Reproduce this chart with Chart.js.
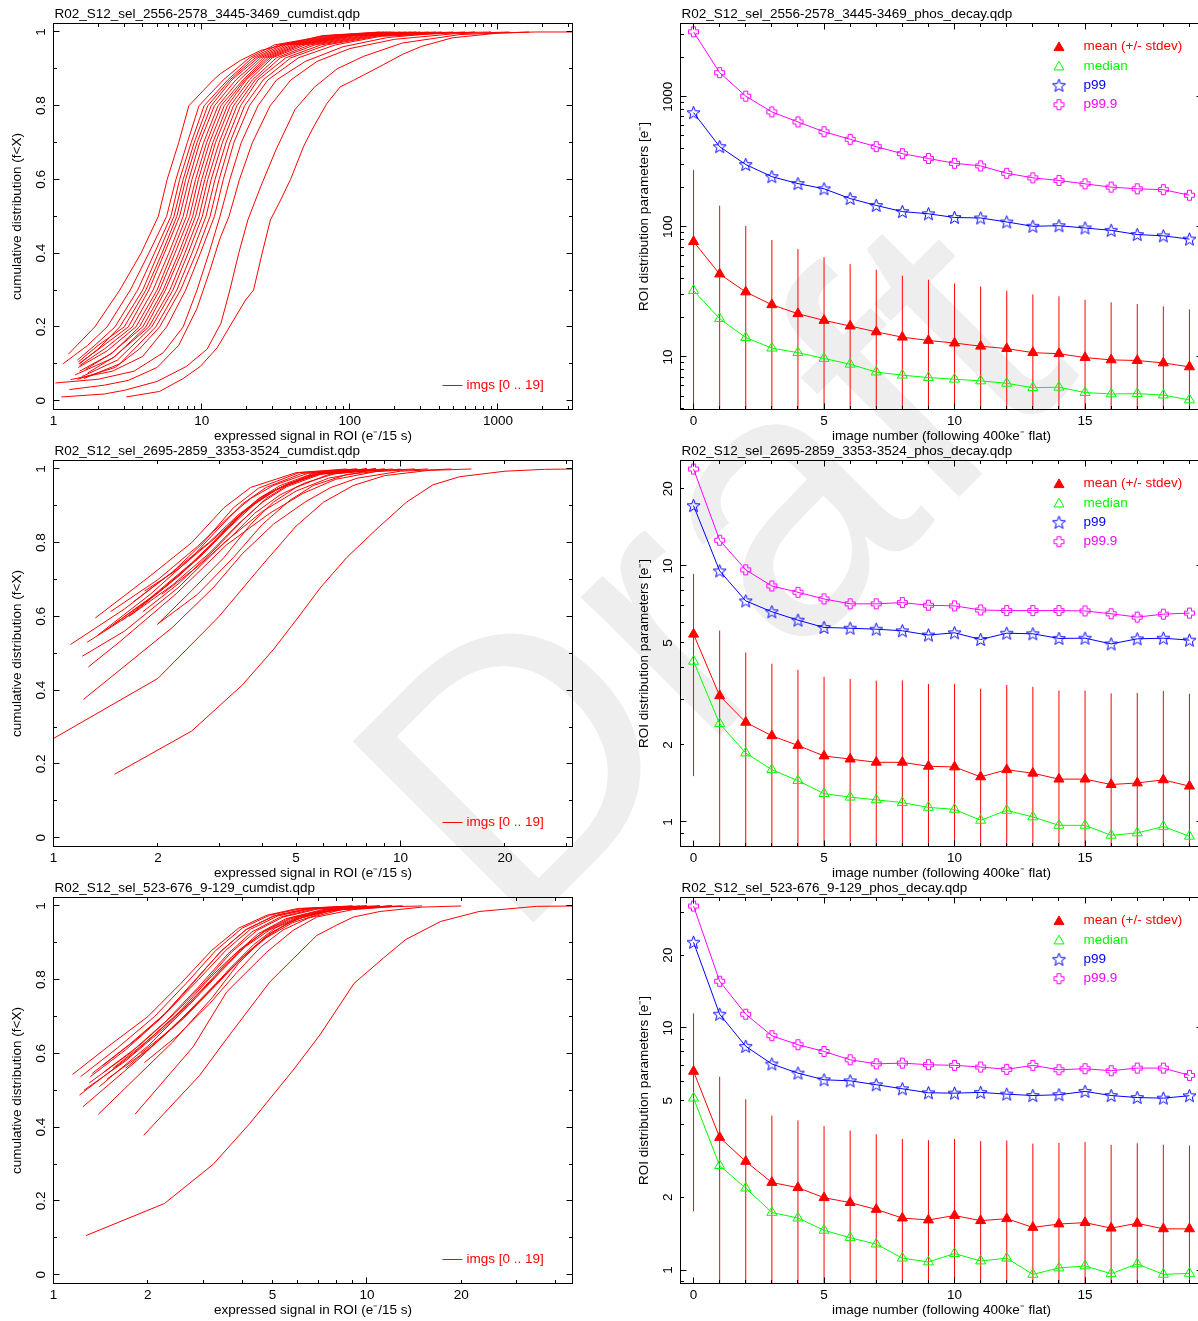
<!DOCTYPE html>
<html>
<head>
<meta charset="utf-8">
<script src="https://cdn.jsdelivr.net/npm/chart.js@4.4.1/dist/chart.umd.min.js"></script>
<style>
  html, body { margin: 0; padding: 0; background: #fff; width: 1198px; height: 1321px; overflow: hidden; }
  #watermark { position: absolute; left: 0; top: 0; }
  canvas { position: absolute; }
</style>
</head>
<body>
<svg id="watermark" width="1198" height="1321">
  <text x="512" y="944" font-family="Liberation Sans, Arial, sans-serif" font-size="372" fill="#eeeeee" transform="rotate(-45 512 944)">Draft</text>
</svg>
<canvas id="cdf1" width="600" height="452" style="left:0;top:0"></canvas>
<canvas id="decay1" width="620" height="452" style="left:600px;top:0"></canvas>
<canvas id="cdf2" width="600" height="452" style="left:0;top:437px"></canvas>
<canvas id="decay2" width="620" height="452" style="left:600px;top:437px"></canvas>
<canvas id="cdf3" width="600" height="447" style="left:0;top:874px"></canvas>
<canvas id="decay3" width="620" height="447" style="left:600px;top:874px"></canvas>
<script>
// ---- data ----
const imageNumbers = [0, 1, 2, 3, 4, 5, 6, 7, 8, 9, 10, 11, 12, 13, 14, 15, 16, 17, 18, 19];

// ROI 2556-2578 / 3445-3469
const meanA = [77, 43.4, 31.6, 25.2, 21.5, 19.1, 17.3, 15.6, 14.2, 13.4, 12.8, 12.1, 11.6, 10.8, 10.6, 9.9, 9.5, 9.4, 9.0, 8.4];
const stdevA = [197, 102, 70, 54, 46, 39.4, 34.4, 31.2, 27.9, 25.8, 23.9, 22.7, 20.7, 19.4, 18.6, 17.6, 16.8, 16.1, 15.5, 14.8];
const medianA = [32.4, 19.7, 14.1, 11.7, 10.8, 9.75, 8.8, 7.66, 7.25, 6.95, 6.75, 6.55, 6.28, 5.81, 5.86, 5.33, 5.2, 5.23, 5.1, 4.68];
const p99A = [754, 413, 301, 243, 215, 196, 165, 146, 131, 126, 118, 117, 109, 101, 102, 98, 94, 87.3, 85.3, 80.5];
const p999A = [3150, 1530, 1010, 764, 640, 538, 471, 413, 365, 335, 308, 294, 258, 238, 227, 214, 202, 196, 193, 175];

// ROI 2695-2859 / 3353-3524
const meanB = [5.41, 3.11, 2.45, 2.17, 1.99, 1.81, 1.76, 1.71, 1.71, 1.65, 1.64, 1.50, 1.60, 1.55, 1.47, 1.47, 1.40, 1.42, 1.46, 1.38];
const stdevB = [3.9, 2.48, 2.14, 1.98, 1.94, 1.88, 1.86, 1.85, 1.86, 1.81, 1.82, 1.81, 1.83, 1.82, 1.79, 1.79, 1.78, 1.77, 1.79, 1.79];
const medianB = [4.24, 2.42, 1.86, 1.60, 1.45, 1.29, 1.25, 1.22, 1.19, 1.14, 1.12, 1.015, 1.11, 1.046, 0.97, 0.97, 0.887, 0.906, 0.96, 0.879];
const p99B = [17.2, 9.56, 7.30, 6.62, 6.14, 5.75, 5.71, 5.66, 5.58, 5.37, 5.48, 5.16, 5.46, 5.43, 5.21, 5.22, 4.96, 5.19, 5.22, 5.13];
const p999B = [23.9, 12.6, 9.65, 8.35, 7.89, 7.43, 7.11, 7.11, 7.19, 7.02, 6.98, 6.73, 6.69, 6.69, 6.69, 6.67, 6.50, 6.31, 6.48, 6.54];

// ROI 523-676 / 9-129
const meanC = [6.62, 3.53, 2.81, 2.30, 2.19, 1.99, 1.90, 1.78, 1.64, 1.61, 1.68, 1.60, 1.63, 1.50, 1.55, 1.57, 1.49, 1.56, 1.48, 1.48];
const stdevC = [4.87, 2.76, 2.27, 2.05, 1.96, 1.94, 1.87, 1.86, 1.84, 1.83, 1.80, 1.81, 1.80, 1.83, 1.80, 1.81, 1.80, 1.78, 1.81, 1.79];
const medianC = [5.13, 2.70, 2.18, 1.73, 1.64, 1.46, 1.36, 1.28, 1.12, 1.08, 1.17, 1.09, 1.12, 0.96, 1.02, 1.04, 0.966, 1.06, 0.96, 0.969];
const p99C = [22.6, 11.4, 8.40, 7.10, 6.51, 6.11, 6.05, 5.83, 5.61, 5.40, 5.38, 5.42, 5.33, 5.26, 5.30, 5.47, 5.26, 5.16, 5.13, 5.25];
const p999C = [31.9, 15.6, 11.4, 9.29, 8.53, 8.0, 7.39, 7.11, 7.16, 7.05, 7.01, 6.90, 6.75, 7.01, 6.72, 6.79, 6.66, 6.83, 6.83, 6.37];

// cumulative distributions, one [signal, fraction] list per image (0 .. 19)
const cdfA = [
  [[3.1,0.01],[5.2,0.025],[7.5,0.06],[9.8,0.093],[12.7,0.143],[16.5,0.22],[19.8,0.273],[22.4,0.30],[25.6,0.40],[29.1,0.49],[34.1,0.544],[39.8,0.60],[48.8,0.69],[57,0.743],[70,0.806],[86,0.851],[106,0.869],[125,0.884],[168,0.911],[226,0.939],[305,0.961],[490,0.984],[1000,0.997],[1800,1],[3200,1]],
  [[1.13,0.01],[2.2,0.018],[3.0,0.028],[5.0,0.052],[7.9,0.093],[10.9,0.14],[13.5,0.21],[15.5,0.30],[17.8,0.40],[20.5,0.49],[25,0.58],[31.7,0.68],[42.7,0.79],[57.6,0.85],[82,0.9],[124,0.934],[226,0.97],[555,0.993],[1620,1]],
  [[1.28,0.03],[2.2,0.042],[3.2,0.055],[5,0.09],[7,0.15],[9.3,0.25],[11.3,0.35],[13.3,0.44],[15.3,0.5],[18,0.6],[22,0.7],[29,0.8],[40,0.87],[60,0.92],[100,0.955],[200,0.98],[500,0.995],[1200,1]],
  [[1.03,0.048],[2,0.058],[3.5,0.08],[5.5,0.13],[7.5,0.2],[9.3,0.3],[11.2,0.4],[13.3,0.5],[15.5,0.6],[18.5,0.7],[24,0.8],[32,0.87],[50,0.92],[90,0.96],[180,0.985],[400,0.997],[900,1]],
  [[1.3,0.057],[2.5,0.08],[4,0.12],[5.8,0.2],[7.8,0.3],[9.8,0.4],[12.2,0.5],[14,0.6],[16.5,0.7],[21,0.8],[28,0.87],[45,0.93],[80,0.965],[160,0.988],[700,1]],
  [[1.45,0.058],[2.6,0.09],[3.8,0.14],[5.2,0.2],[7.2,0.3],[9.2,0.4],[11.4,0.5],[13.1,0.6],[15.5,0.7],[19.5,0.8],[26,0.87],[40,0.93],[70,0.965],[160,0.99],[600,1]],
  [[1.6,0.06],[2.8,0.1],[4.9,0.2],[6.8,0.3],[8.6,0.4],[10.7,0.5],[12.3,0.6],[14.6,0.7],[18.3,0.8],[24,0.87],[37,0.93],[64,0.965],[150,0.99],[500,1]],
  [[1.55,0.065],[2.7,0.11],[4.6,0.2],[6.4,0.3],[8.1,0.4],[10.1,0.5],[11.6,0.6],[13.8,0.7],[17.3,0.8],[23,0.87],[34,0.93],[58,0.965],[140,0.99],[420,1]],
  [[1.4,0.07],[2.5,0.115],[4.4,0.2],[6.1,0.3],[7.7,0.4],[9.6,0.5],[11,0.6],[13.1,0.7],[16.4,0.8],[22,0.87],[32,0.93],[54,0.965],[130,0.99],[380,1]],
  [[1.7,0.075],[2.6,0.12],[4.2,0.2],[5.7,0.3],[7.3,0.4],[9.1,0.5],[10.5,0.6],[12.4,0.7],[15.6,0.8],[21,0.87],[30,0.93],[50,0.965],[120,0.99],[340,1]],
  [[1.5,0.08],[2.4,0.125],[4.0,0.2],[5.5,0.3],[7.0,0.4],[8.7,0.5],[10,0.6],[11.9,0.7],[14.9,0.8],[20,0.87],[29,0.93],[47,0.965],[110,0.99],[300,1]],
  [[1.65,0.085],[2.5,0.13],[3.8,0.2],[5.2,0.3],[6.6,0.4],[8.3,0.5],[9.5,0.6],[11.3,0.7],[14.2,0.8],[19.5,0.87],[28,0.93],[45,0.965],[105,0.99],[280,1]],
  [[1.47,0.09],[2.3,0.135],[3.6,0.2],[5.0,0.3],[6.3,0.4],[7.9,0.5],[9.1,0.6],[10.8,0.7],[13.5,0.8],[19,0.87],[27,0.93],[43,0.965],[100,0.99],[260,1]],
  [[1.5,0.095],[2.2,0.14],[3.4,0.2],[4.7,0.3],[6.0,0.4],[7.5,0.5],[8.6,0.6],[10.3,0.7],[12.9,0.8],[18,0.87],[26,0.93],[41,0.965],[95,0.99],[240,1]],
  [[1.48,0.1],[2.1,0.145],[3.2,0.2],[4.4,0.3],[5.6,0.4],[7.1,0.5],[8.2,0.6],[9.7,0.7],[12.2,0.8],[17,0.87],[25,0.93],[39,0.965],[90,0.99],[220,1]],
  [[1.47,0.105],[2.0,0.15],[3.0,0.2],[4.2,0.3],[5.4,0.4],[6.8,0.5],[7.8,0.6],[9.3,0.7],[11.6,0.8],[16,0.87],[24,0.93],[37,0.965],[85,0.99],[200,1]],
  [[1.5,0.1],[2.0,0.14],[2.8,0.2],[4.0,0.3],[5.1,0.4],[6.5,0.5],[7.5,0.6],[8.9,0.7],[11,0.8],[15.5,0.87],[23,0.93],[35,0.965],[80,0.99],[190,1]],
  [[1.45,0.11],[1.9,0.15],[2.6,0.2],[3.7,0.3],[4.8,0.4],[6.2,0.5],[7.1,0.6],[8.5,0.7],[10.4,0.8],[15,0.87],[22,0.93],[33,0.965],[75,0.99],[180,1]],
  [[1.16,0.1],[1.7,0.15],[2.3,0.2],[3.3,0.3],[4.4,0.4],[5.8,0.5],[6.7,0.6],[8.0,0.7],[9.6,0.8],[14,0.87],[21,0.93],[31,0.965],[70,0.99],[170,1]],
  [[1.26,0.126],[1.9,0.2],[2.8,0.3],[3.9,0.4],[5.1,0.5],[5.85,0.6],[7.0,0.7],[8.2,0.8],[10.3,0.842],[12,0.87],[13.4,0.887],[18.3,0.923],[25,0.95],[65,0.99],[160,1]]
];
const cdfB = [
  [[1.5,0.172],[2.5,0.289],[3.5,0.414],[4.3,0.51],[5.0,0.59],[5.9,0.68],[7.0,0.76],[8.6,0.84],[10.4,0.91],[12.4,0.957],[14.8,0.979],[20,0.994],[26,0.999],[32,1]],
  [[1.0,0.269],[2.0,0.432],[3.0,0.60],[4.0,0.74],[5.0,0.845],[6.0,0.91],[7.3,0.955],[9,0.982],[12,0.996],[16,1]],
  [[1.22,0.375],[2.2,0.57],[2.9,0.68],[3.5,0.77],[4.3,0.85],[5.3,0.91],[6.3,0.95],[7.5,0.975],[10,0.994],[14,1]],
  [[1.26,0.463],[1.55,0.531],[2.26,0.662],[3.15,0.794],[4.2,0.88],[5.24,0.934],[6.5,0.972],[8.5,0.993],[12,1]],
  [[1.21,0.492],[1.6,0.56],[2.3,0.68],[3.1,0.8],[4.0,0.885],[5.0,0.94],[6.2,0.975],[8,0.994],[11,1]],
  [[2.0,0.58],[2.6,0.66],[3.3,0.76],[4.0,0.85],[4.8,0.915],[5.6,0.955],[7,0.985],[10,1]],
  [[2.05,0.66],[2.6,0.735],[3.2,0.81],[3.8,0.88],[4.5,0.93],[5.3,0.962],[6.5,0.988],[9.5,1]],
  [[1.65,0.6],[2.2,0.685],[2.8,0.77],[3.4,0.85],[4.0,0.91],[4.7,0.952],[5.9,0.986],[9,1]],
  [[1.5,0.58],[2.0,0.665],[2.6,0.755],[3.2,0.84],[3.8,0.905],[4.5,0.95],[5.7,0.986],[8.5,1]],
  [[1.25,0.53],[1.7,0.61],[2.3,0.71],[2.9,0.80],[3.5,0.88],[4.2,0.935],[5.4,0.982],[8,1]],
  [[1.4,0.56],[1.9,0.65],[2.5,0.745],[3.1,0.83],[3.7,0.9],[4.4,0.945],[5.6,0.985],[8,1]],
  [[1.7,0.64],[2.2,0.72],[2.8,0.80],[3.4,0.875],[4.0,0.925],[4.7,0.958],[5.9,0.988],[8.5,1]],
  [[1.99,0.578],[2.5,0.67],[3.1,0.76],[3.7,0.85],[4.3,0.91],[5.0,0.95],[6.2,0.985],[9,1]],
  [[1.83,0.669],[2.3,0.73],[2.9,0.81],[3.5,0.88],[4.1,0.93],[4.8,0.962],[6,0.99],[8.5,1]],
  [[1.81,0.613],[2.3,0.69],[2.9,0.78],[3.5,0.86],[4.1,0.92],[4.7,0.955],[5.8,0.987],[8.5,1]],
  [[1.58,0.59],[2.1,0.68],[2.7,0.77],[3.3,0.86],[3.9,0.92],[4.5,0.955],[5.6,0.988],[8,1]],
  [[1.46,0.613],[2.0,0.70],[2.6,0.79],[3.2,0.87],[3.7,0.92],[4.3,0.955],[5.4,0.988],[8,1]],
  [[1.34,0.549],[1.9,0.66],[2.5,0.76],[3.0,0.84],[3.5,0.905],[4.1,0.95],[5.2,0.988],[7.5,1]],
  [[1.32,0.596],[1.9,0.71],[2.5,0.8],[3.1,0.895],[3.7,0.95],[5,0.99],[7,1]],
  [[1.12,0.524],[1.6,0.62],[2.2,0.72],[2.7,0.8],[3.3,0.895],[3.9,0.948],[5.1,0.99],[7.5,1]]
];
const cdfC = [
  [[1.27,0.106],[2.26,0.193],[3.23,0.299],[4.23,0.41],[5.82,0.555],[7.08,0.65],[9.1,0.79],[11.3,0.859],[13.3,0.909],[17.2,0.958],[22.8,0.985],[34.7,0.999],[46,1]],
  [[1.94,0.378],[2.93,0.541],[3.57,0.64],[4.9,0.794],[5.82,0.857],[6.92,0.92],[8.0,0.948],[9.05,0.97],[11,0.985],[15,0.997],[20,1]],
  [[1.82,0.435],[2.79,0.618],[3.57,0.767],[4.79,0.875],[5.82,0.934],[6.92,0.97],[9,0.99],[12,0.998],[15,1]],
  [[1.39,0.435],[2.4,0.631],[3.2,0.75],[3.9,0.845],[4.6,0.905],[5.5,0.95],[6.5,0.975],[8.5,0.993],[12,1]],
  [[1.24,0.455],[1.9,0.59],[2.6,0.70],[3.3,0.79],[4.0,0.86],[4.8,0.915],[5.8,0.955],[7.5,0.985],[10,0.998],[13,1]],
  [[1.21,0.487],[1.8,0.6],[2.5,0.71],[3.2,0.81],[3.9,0.88],[4.7,0.93],[5.7,0.965],[7.5,0.99],[11,1]],
  [[1.4,0.51],[2.0,0.62],[2.7,0.73],[3.4,0.82],[4.1,0.89],[4.9,0.935],[6,0.97],[8,0.992],[11,1]],
  [[1.7,0.56],[2.2,0.64],[2.8,0.725],[3.5,0.81],[4.25,0.88],[5.0,0.93],[6.0,0.965],[7.8,0.99],[12,1]],
  [[1.95,0.575],[2.5,0.65],[3.15,0.735],[3.85,0.82],[4.6,0.89],[5.4,0.935],[6.5,0.967],[8.3,0.99],[13,1]],
  [[1.48,0.53],[2.0,0.61],[2.6,0.695],[3.3,0.785],[4.05,0.865],[4.85,0.923],[5.9,0.963],[7.6,0.988],[12,1]],
  [[1.9,0.6],[2.4,0.67],[3.0,0.75],[3.65,0.83],[4.35,0.895],[5.1,0.94],[6.1,0.97],[7.8,0.99],[12,1]],
  [[1.55,0.56],[2.0,0.635],[2.6,0.72],[3.25,0.805],[3.95,0.88],[4.7,0.932],[5.7,0.968],[7.4,0.99],[11,1]],
  [[1.25,0.5],[1.7,0.58],[2.3,0.675],[2.95,0.77],[3.7,0.86],[4.5,0.925],[5.5,0.965],[7.2,0.99],[11,1]],
  [[1.45,0.55],[1.9,0.625],[2.45,0.71],[3.05,0.795],[3.7,0.875],[4.45,0.933],[5.4,0.97],[7,0.992],[10.5,1]],
  [[1.3,0.52],[1.75,0.6],[2.3,0.69],[2.9,0.78],[3.6,0.87],[4.3,0.93],[5.3,0.97],[6.8,0.992],[10,1]],
  [[1.44,0.568],[1.85,0.64],[2.35,0.72],[2.9,0.8],[3.55,0.88],[4.25,0.937],[5.2,0.973],[6.7,0.993],[10,1]],
  [[1.33,0.546],[1.75,0.625],[2.25,0.705],[2.8,0.795],[3.45,0.88],[4.15,0.938],[5.1,0.974],[6.5,0.993],[10,1]],
  [[1.31,0.537],[1.7,0.61],[2.2,0.695],[2.75,0.785],[3.4,0.875],[4.1,0.935],[5,0.972],[6.4,0.992],[9.5,1]],
  [[1.22,0.537],[1.6,0.615],[2.1,0.70],[2.65,0.79],[3.3,0.88],[4.0,0.94],[4.9,0.975],[6.2,0.993],[9,1]],
  [[1.15,0.543],[1.5,0.62],[2.0,0.70],[2.55,0.79],[3.2,0.88],[3.9,0.94],[4.8,0.975],[6,0.993],[9,1]]
];

// tick labels
const cdfYTicks = [0, 0.2, 0.4, 0.6, 0.8, 1];
const cdfYLabels = ["0", "0.2", "0.4", "0.6", "0.8", "1"];
const wideXTicks = [1, 10, 100, 1000];
const wideXLabels = ["1", "10", "100", "1000"];
const narrowXTicks = [1, 2, 5, 10, 20];
const narrowXLabels = ["1", "2", "5", "10", "20"];
const imgXTicks = [0, 5, 10, 15];
const imgXLabels = ["0", "5", "10", "15"];
const bigYTicks = [10, 100, 1000];
const bigYLabels = ["10", "100", "1000"];
const smallYTicks = [1, 2, 5, 10, 20];
const smallYLabels = ["1", "2", "5", "10", "20"];

const RED = "#ff0000";
const GREEN = "#00ff00";
const BLUE = "#0000ff";
const MAGENTA = "#ff00ff";
const FONT = '13.5px "Liberation Sans", Arial, Helvetica, sans-serif';

// minor ticks for a log axis
function logMinor(min, max) {
  const out = [];
  for (let d = -1; d <= 4; d++) {
    for (let k = 2; k <= 9; k++) {
      const v = k * Math.pow(10, d);
      if (v > min && v < max) out.push(v);
    }
  }
  return out;
}

// open marker images (qdp style star / cross)
function starMarker(color) {
  const c = document.createElement("canvas");
  c.width = c.height = 15;
  const g = c.getContext("2d");
  g.beginPath();
  for (let k = 0; k < 10; k++) {
    const r = k % 2 ? 2.9 : 6.8;
    const a = -Math.PI / 2 + k * Math.PI / 5;
    g.lineTo(7.5 + r * Math.cos(a), 8 + r * Math.sin(a));
  }
  g.closePath();
  g.strokeStyle = color;
  g.lineWidth = 1;
  g.stroke();
  return c;
}

function crossMarker(color) {
  const c = document.createElement("canvas");
  c.width = c.height = 13;
  const g = c.getContext("2d");
  const lo = 4.5, hi = 8.5, e0 = 1.5, e1 = 11.5;
  const pts = [[lo,e0],[hi,e0],[hi,lo],[e1,lo],[e1,hi],[hi,hi],[hi,e1],[lo,e1],[lo,hi],[e0,hi],[e0,lo],[lo,lo]];
  g.beginPath();
  pts.forEach((p) => g.lineTo(p[0], p[1]));
  g.closePath();
  g.strokeStyle = color;
  g.lineWidth = 1;
  g.stroke();
  return c;
}

const starBlue = starMarker(BLUE);
const crossMagenta = crossMarker(MAGENTA);

function drawTriangle(ctx, x, y, r, fill, color) {
  ctx.beginPath();
  for (let k = 0; k < 3; k++) {
    const a = k * 2 * Math.PI / 3;
    ctx.lineTo(x + Math.sin(a) * r, y - Math.cos(a) * r);
  }
  ctx.closePath();
  ctx.strokeStyle = color;
  ctx.lineWidth = 1;
  if (fill) {
    ctx.fillStyle = color;
    ctx.fill();
  }
  ctx.stroke();
}

// frame, inward ticks, labels, titles, legends and error bars
const qdpFrame = {
  id: "qdpFrame",
  beforeDatasetsDraw(chart) {
    const o = chart.options.plugins.qdpFrame;
    if (!o.errMean) return;
    const { ctx, chartArea: a, scales: { x, y } } = chart;
    ctx.save();
    ctx.beginPath();
    ctx.rect(a.left, a.top, a.right - a.left, a.bottom - a.top);
    ctx.clip();
    ctx.strokeStyle = RED;
    ctx.lineWidth = 1;
    o.errMean.forEach((m, i) => {
      const px = x.getPixelForValue(imageNumbers[i]);
      const lo = m - o.errSd[i];
      const top = y.getPixelForValue(m + o.errSd[i]);
      const bot = lo > y.min ? y.getPixelForValue(lo) : a.bottom;
      ctx.beginPath();
      ctx.moveTo(px, top);
      ctx.lineTo(px, bot);
      ctx.stroke();
    });
    ctx.restore();
  },
  afterDraw(chart) {
    const o = chart.options.plugins.qdpFrame;
    const { ctx, chartArea: a, scales: { x, y } } = chart;
    ctx.save();
    ctx.strokeStyle = "#000";
    ctx.lineWidth = 1;
    ctx.strokeRect(a.left, a.top, a.right - a.left, a.bottom - a.top);

    ctx.beginPath();
    const xt = (v, len) => {
      const p = Math.floor(x.getPixelForValue(v)) + 0.5;
      ctx.moveTo(p, a.bottom); ctx.lineTo(p, a.bottom - len);
      ctx.moveTo(p, a.top); ctx.lineTo(p, a.top + len);
    };
    const yt = (v, len) => {
      const p = Math.floor(y.getPixelForValue(v)) + 0.5;
      ctx.moveTo(a.left, p); ctx.lineTo(a.left + len, p);
      ctx.moveTo(a.right, p); ctx.lineTo(a.right - len, p);
    };
    o.xMajor.forEach((v) => xt(v, 6));
    o.xMinor.forEach((v) => xt(v, 3.5));
    o.yMajor.forEach((v) => yt(v, 6));
    o.yMinor.forEach((v) => yt(v, 3.5));
    ctx.stroke();

    ctx.fillStyle = "#000";
    ctx.font = FONT;
    ctx.textAlign = "center";
    ctx.textBaseline = "middle";
    o.xTicks.forEach((v, i) => ctx.fillText(o.xLabels[i], x.getPixelForValue(v), a.bottom + 11.5));
    o.yTicks.forEach((v, i) => {
      ctx.save();
      ctx.translate(a.left - 12.5, y.getPixelForValue(v));
      ctx.rotate(-Math.PI / 2);
      ctx.fillText(o.yLabels[i], 0, 0);
      ctx.restore();
    });
    ctx.fillText(o.xTitle, (a.left + a.right) / 2, a.bottom + 27);
    ctx.save();
    ctx.translate(a.left - 36.5, (a.top + a.bottom) / 2);
    ctx.rotate(-Math.PI / 2);
    ctx.fillText(o.yTitle, 0, 0);
    ctx.restore();

    ctx.textAlign = "left";
    ctx.textBaseline = "alphabetic";
    ctx.fillText(o.title, a.left + 1, 17.5);

    ctx.textBaseline = "middle";
    if (o.cdfLegend) {
      const ly = a.bottom - 24.5;
      ctx.strokeStyle = RED;
      ctx.beginPath();
      ctx.moveTo(a.right - 130, Math.floor(ly) + 0.5);
      ctx.lineTo(a.right - 110, Math.floor(ly) + 0.5);
      ctx.stroke();
      ctx.fillStyle = RED;
      ctx.fillText("imgs [0 .. 19]", a.right - 106, ly);
    } else {
      const entries = [
        { text: "mean (+/- stdev)", color: RED },
        { text: "median", color: GREEN },
        { text: "p99", color: BLUE },
        { text: "p99.9", color: MAGENTA }
      ];
      entries.forEach((e, i) => {
        const ly = a.top + 23.2 + 19.33 * i;
        const mx = a.left + 378.5;
        if (i === 0) drawTriangle(ctx, mx, ly + 1, 5.8, true, RED);
        if (i === 1) drawTriangle(ctx, mx, ly + 1, 5.8, false, GREEN);
        if (i === 2) ctx.drawImage(starBlue, mx - 7.5, ly - 7.5);
        if (i === 3) ctx.drawImage(crossMagenta, mx - 6.5, ly - 6.5);
        ctx.fillStyle = e.color;
        ctx.fillText(e.text, a.left + 403, ly);
      });
    }
    ctx.restore();
  }
};

function cdfChart(id, curves, xMax, xTicks, xLabels, xMinor, title, height) {
  new Chart(document.getElementById(id), {
    type: "line",
    data: {
      datasets: curves.map((pts, i) => ({
        label: "img " + i,
        data: pts.map((p) => ({ x: p[0], y: p[1] })),
        borderColor: RED,
        borderWidth: 1,
        pointRadius: 0,
        tension: 0,
        fill: false
      }))
    },
    options: {
      animation: false,
      responsive: false,
      events: [],
      layout: { padding: { left: 53.5, right: 27.5, top: 23.5, bottom: height - 409.5 } },
      scales: {
        x: { type: "logarithmic", min: 1, max: xMax, display: false },
        y: { type: "linear", min: -0.024, max: 1.023, display: false }
      },
      plugins: {
        legend: { display: false },
        tooltip: { enabled: false },
        qdpFrame: {
          title: title,
          xTitle: "expressed signal in ROI (e\u207B/15 s)",
          yTitle: "cumulative distribution (f<X)",
          xTicks: xTicks, xLabels: xLabels,
          xMajor: xTicks.filter((v) => [1, 10, 100, 1000].includes(v)),
          xMinor: xMinor,
          yTicks: cdfYTicks, yLabels: cdfYLabels,
          yMajor: cdfYTicks,
          yMinor: [0.1, 0.3, 0.5, 0.7, 0.9],
          cdfLegend: true
        }
      }
    },
    plugins: [qdpFrame]
  });
}

function decayChart(id, mean, sd, median, p99, p999, yMin, yMax, yTicks, yLabels, title, height) {
  const pts = (arr) => arr.map((v, i) => ({ x: imageNumbers[i], y: v }));
  new Chart(document.getElementById(id), {
    type: "line",
    data: {
      datasets: [
        { label: "mean (+/- stdev)", data: pts(mean), borderColor: RED, backgroundColor: RED,
          borderWidth: 1, pointStyle: "triangle", pointRadius: 5.8, pointBorderWidth: 1, tension: 0 },
        { label: "median", data: pts(median), borderColor: GREEN, backgroundColor: "rgba(0,0,0,0)",
          borderWidth: 1, pointStyle: "triangle", pointRadius: 5.8, pointBorderWidth: 1, tension: 0 },
        { label: "p99", data: pts(p99), borderColor: BLUE, backgroundColor: "rgba(0,0,0,0)",
          borderWidth: 1, pointStyle: starBlue, pointRadius: 7, tension: 0 },
        { label: "p99.9", data: pts(p999), borderColor: MAGENTA, backgroundColor: "rgba(0,0,0,0)",
          borderWidth: 1, pointStyle: crossMagenta, pointRadius: 6, tension: 0 }
      ]
    },
    options: {
      animation: false,
      responsive: false,
      events: [],
      layout: { padding: { left: 80.5, right: 17.5, top: 23.5, bottom: height - 409.5 } },
      scales: {
        x: { type: "linear", min: -0.5, max: 19.5, display: false },
        y: { type: "logarithmic", min: yMin, max: yMax, display: false }
      },
      plugins: {
        legend: { display: false },
        tooltip: { enabled: false },
        qdpFrame: {
          title: title,
          xTitle: "image number (following 400ke\u207B flat)",
          yTitle: "ROI distribution parameters [e\u207B]",
          xTicks: imgXTicks, xLabels: imgXLabels,
          xMajor: imgXTicks,
          xMinor: imageNumbers.filter((v) => v % 5 !== 0),
          yTicks: yTicks, yLabels: yLabels,
          yMajor: [1, 10, 100, 1000].filter((v) => v > yMin && v < yMax),
          yMinor: logMinor(yMin, yMax),
          errMean: mean, errSd: sd,
          cdfLegend: false
        }
      }
    },
    plugins: [qdpFrame]
  });
}

cdfChart("cdf1", cdfA, 3184, wideXTicks, wideXLabels, logMinor(1, 3184),
  "R02_S12_sel_2556-2578_3445-3469_cumdist.qdp", 452);
cdfChart("cdf2", cdfB, 31.3, narrowXTicks, narrowXLabels, logMinor(1, 31.3),
  "R02_S12_sel_2695-2859_3353-3524_cumdist.qdp", 452);
cdfChart("cdf3", cdfC, 45.3, narrowXTicks, narrowXLabels, logMinor(1, 45.3),
  "R02_S12_sel_523-676_9-129_cumdist.qdp", 447);

decayChart("decay1", meanA, stdevA, medianA, p99A, p999A, 3.95, 3651, bigYTicks, bigYLabels,
  "R02_S12_sel_2556-2578_3445-3469_phos_decay.qdp", 452);
decayChart("decay2", meanB, stdevB, medianB, p99B, p999B, 0.802, 25.8, smallYTicks, smallYLabels,
  "R02_S12_sel_2695-2859_3353-3524_phos_decay.qdp", 452);
decayChart("decay3", meanC, stdevC, medianC, p99C, p999C, 0.88, 34.6, smallYTicks, smallYLabels,
  "R02_S12_sel_523-676_9-129_phos_decay.qdp", 447);
</script>
</body>
</html>
